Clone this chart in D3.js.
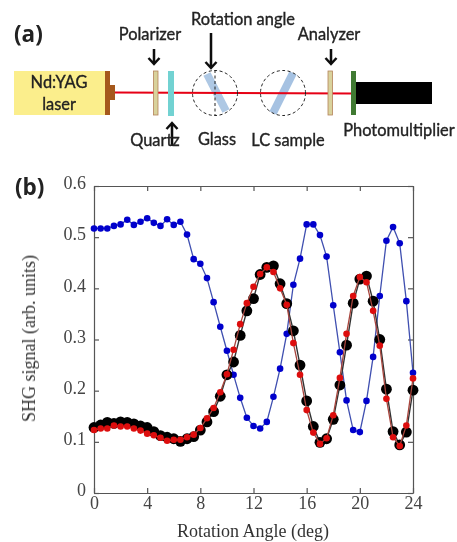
<!DOCTYPE html>
<html>
<head>
<meta charset="utf-8">
<script src="https://cdn.jsdelivr.net/npm/d3@7/dist/d3.min.js"></script>
<style>
html, body { margin: 0; padding: 0; background: #fff; }
svg { display: block; }
.label { font-family: Lato, "Open Sans", sans-serif; font-size: 16.4px; font-weight: 400; fill: #222; stroke: #222; stroke-width: 0.35px; text-anchor: middle; }
.panel { font-family: "Open Sans", sans-serif; font-size: 22.5px; font-weight: 700; fill: #222; }
.tick-label { font-family: "Liberation Serif", serif; font-size: 18px; fill: #444; }
.axis-title { font-family: "Liberation Serif", serif; font-size: 18px; fill: #333; }
</style>
</head>
<body>
<script>
// rotation angle, every half degree from 0 to 24
var angle = d3.range(49).map(function(i) { return i / 2; });

var blue = [.517,.517,.517,.522,.525,.534,.524,.530,.537,.528,.522,.535,.524,.530,.505,.457,.448,.420,.373,.325,
	.278,.231,.186,.147,.131,.126,.139,.188,.243,.311,.407,.458,.525,.525,.504,.462,.367,.275,.181,.123,
	.119,.180,.266,.385,.493,.520,.488,.375,.235];

var black = [.128,.133,.138,.136,.139,.138,.135,.131,.128,.120,.112,.109,.106,.101,.106,.110,.123,.139,.159,.189,
	.231,.256,.308,.356,.380,.427,.441,.444,.409,.370,.317,.250,.180,.130,.099,.106,.144,.211,.289,.371,
	.418,.424,.375,.300,.203,.120,.094,.119,.201];

var red = [.123,.126,.126,.132,.130,.130,.126,.122,.116,.113,.108,.102,.104,.104,.109,.114,.127,.146,.166,.197,
	.232,.280,.330,.371,.403,.428,.441,.432,.400,.368,.293,.231,.162,.118,.096,.107,.152,.225,.311,.385,
	.422,.412,.356,.288,.184,.109,.092,.132,.224];

var xTicks = [0, 4, 8, 12, 16, 20, 24];
var yTicks = [0, 0.1, 0.2, 0.3, 0.4, 0.5, 0.6];

var width = 457, height = 542;
var svg = d3.select("body").append("svg")
	.attr("width", width)
	.attr("height", height);

// the reference is a soft raster, so everything gets a touch of blur
svg.append("defs").append("filter").attr("id", "soft")
	.attr("x", 0).attr("y", 0).attr("width", width).attr("height", height)
	.attr("filterUnits", "userSpaceOnUse")
	.append("feGaussianBlur").attr("stdDeviation", 0.45);

var page = svg.append("g").attr("filter", "url(#soft)");

// ---- (a) the optical setup
var setup = page.append("g");

setup.append("rect").attr("x", 14).attr("y", 71).attr("width", 91).attr("height", 44).attr("fill", "#fbee8c");
setup.append("rect").attr("x", 105).attr("y", 71).attr("width", 5).attr("height", 44).attr("fill", "#a5581c");
setup.append("rect").attr("x", 110).attr("y", 85).attr("width", 5).attr("height", 15).attr("fill", "#a5581c");

// sample bars go under the beam
setup.append("line").attr("x1", 207).attr("y1", 74).attr("x2", 226).attr("y2", 111)
	.attr("stroke", "#aec8e4").attr("stroke-width", 8);
setup.append("line").attr("x1", 293).attr("y1", 73).attr("x2", 273).attr("y2", 113)
	.attr("stroke", "#a6c2e2").attr("stroke-width", 8);

setup.append("line").attr("x1", 115).attr("y1", 92.5).attr("x2", 352).attr("y2", 93.5)
	.attr("stroke", "#e60012").attr("stroke-width", 2.2);

[215, 283].forEach(function(cx) {
	setup.append("circle").attr("cx", cx).attr("cy", 93).attr("r", 22.5)
		.attr("fill", "none").attr("stroke", "#222").attr("stroke-width", 1).attr("stroke-dasharray", "3,2.5");
});
setup.append("line").attr("x1", 215).attr("y1", 70).attr("x2", 215).attr("y2", 116)
	.attr("stroke", "#222").attr("stroke-width", 1).attr("stroke-dasharray", "3,2.5");

[153.5, 328].forEach(function(x) {
	setup.append("rect").attr("x", x).attr("y", 71).attr("width", 4.5).attr("height", 44)
		.attr("fill", "#d9d29c").attr("stroke", "#b5835a").attr("stroke-width", 0.8);
});
setup.append("rect").attr("x", 168).attr("y", 71).attr("width", 6).attr("height", 45).attr("fill", "#72d2d2");
setup.append("rect").attr("x", 351).attr("y", 71).attr("width", 5).attr("height", 44).attr("fill", "#3f7a30");
setup.append("rect").attr("x", 356).attr("y", 82).attr("width", 76).attr("height", 22).attr("fill", "#000");

function arrow(x, y1, y2) {
	var dir = y2 > y1 ? -1 : 1;
	setup.append("path")
		.attr("d", "M" + x + "," + y1 + "L" + x + "," + y2
			+ "M" + (x - 5.5) + "," + (y2 + dir * 6) + "L" + x + "," + y2 + "L" + (x + 5.5) + "," + (y2 + dir * 6))
		.attr("fill", "none").attr("stroke", "#111").attr("stroke-width", 2.5);
}
arrow(154, 49, 64);
arrow(211, 33, 68);
arrow(331, 49, 64);
arrow(172, 146, 123);

var labels = [
	["Polarizer", 150, 40],
	["Rotation angle", 243, 25],
	["Analyzer", 329, 40],
	["Nd:YAG", 59, 88],
	["laser", 59, 110],
	["Quartz", 155, 146],
	["Glass", 217, 145],
	["LC sample", 288, 146],
	["Photomultiplier", 399, 136]
];
labels.forEach(function(d) {
	setup.append("text").attr("class", "label").attr("x", d[1]).attr("y", d[2]).text(d[0]);
});
setup.append("text").attr("class", "panel").attr("x", 14).attr("y", 42).text("(a)");
page.append("text").attr("class", "panel").attr("x", 15).attr("y", 195).text("(b)");

// ---- (b) the scan
var x = d3.scaleLinear().domain([0, 24]).range([94, 413]);
var y = d3.scaleLinear().domain([0, 0.6]).range([493, 186]);

var chart = page.append("g");

function axis(gen, tx, ty) {
	var g = chart.append("g")
		.attr("transform", "translate(" + tx + "," + ty + ")")
		.call(gen);
	g.selectAll("path, line").attr("stroke", "#555").attr("stroke-width", 1.2);
	g.selectAll("text").attr("class", "tick-label").attr("font-family", null).attr("font-size", null);
	return g;
}

axis(d3.axisBottom(x).tickValues(xTicks).tickSize(-5).tickSizeOuter(0).tickPadding(3), 0, 493);
axis(d3.axisTop(x).tickValues(xTicks).tickSize(-5).tickSizeOuter(0).tickFormat(""), 0, 186);
axis(d3.axisLeft(y).tickValues(yTicks).tickSize(-5).tickSizeOuter(0).tickPadding(8)
	.tickFormat(function(d) { return d === 0 ? "0" : d3.format(".1f")(d); }), 94, 0)
	.selectAll("text").attr("dy", "0.15em");
axis(d3.axisRight(y).tickValues(yTicks).tickSize(-5).tickSizeOuter(0).tickFormat(""), 413, 0);

var line = d3.line()
	.x(function(d, i) { return x(angle[i]); })
	.y(function(d) { return y(d); });

function series(values, color, lineColor, lineWidth, r) {
	var g = chart.append("g");
	g.append("path").attr("d", line(values))
		.attr("fill", "none").attr("stroke", lineColor).attr("stroke-width", lineWidth);
	g.selectAll("circle")
		.data(values)
		.enter()
		.append("circle")
		.attr("cx", function(d, i) { return x(angle[i]); })
		.attr("cy", function(d) { return y(d); })
		.attr("r", r)
		.attr("fill", color);
}

series(blue, "#0000cc", "#3f4fb0", 1.3, 3.3);
series(black, "#000", "#333", 1.4, 5.4);
series(red, "#dd0f0f", "#a8443c", 1.3, 3.3);

chart.append("text").attr("class", "axis-title")
	.attr("x", 253).attr("y", 537).attr("text-anchor", "middle")
	.text("Rotation Angle (deg)");
chart.append("text").attr("class", "axis-title")
	.attr("transform", "translate(35,338.5) rotate(-90)").attr("text-anchor", "middle")
	.text("SHG signal (arb. units)");
</script>
</body>
</html>
